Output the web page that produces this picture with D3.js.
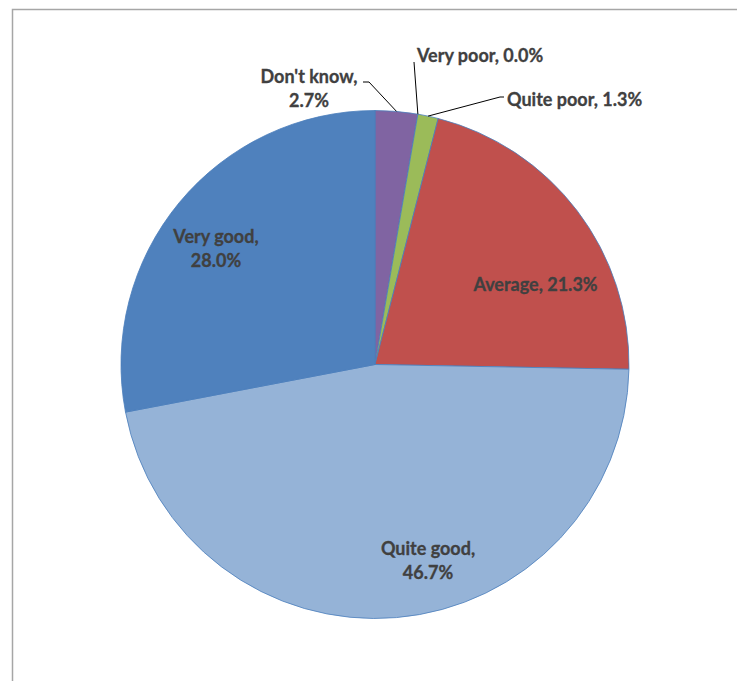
<!DOCTYPE html>
<html>
<head>
<meta charset="utf-8">
<script src="https://cdn.jsdelivr.net/npm/d3@7"></script>
<style>
  html, body { margin: 0; padding: 0; background: #fff; }
  svg { display: block; }
  .lbl { font-family: Lato, "Open Sans", sans-serif; font-weight: 700; font-size: 18px; fill: #404040;
         stroke: #404040; stroke-width: 0.3px; paint-order: stroke; }
</style>
</head>
<body>
<svg id="chart" width="737" height="681"></svg>
<script>
// Survey answers, in drawing order clockwise from 12 o'clock
const categories = ["Don't know", "Very poor", "Quite poor", "Average", "Quite good", "Very good"];
const shares = [2.7, 0.0, 1.3, 21.3, 46.7, 28.0];
const colors = ["#8064A2", "#C0504D", "#9BBB59", "#C0504D", "#95B3D7", "#4F81BD"];

// Label placement relative to the pie centre: [dx, dy of first baseline, anchor, split into two lines]
const labelPlacement = [
  { dx: -66, dy: -281.5, anchor: "middle", twoLines: true, leader: [[60, -1], [54, -1]] },
  { dx: 42, dy: -302.5, anchor: "start", twoLines: false, leader: [[-3, 0]] },
  { dx: 132, dy: -258.5, anchor: "start", twoLines: false, leader: [[-7, -9], [-3, -9]] },
  { dx: 160.5, dy: -73.5, anchor: "middle", twoLines: false },
  { dx: 53, dy: 190.5, anchor: "middle", twoLines: true },
  { dx: -159, dy: -121.5, anchor: "middle", twoLines: true }
];

const svg = d3.select("#chart");
const W = 737, H = 681;
const cx = 375, cy = 364.5, R = 254;
const lineGap = 24;

// chart area frame
svg.append("rect")
  .attr("x", 12.5).attr("y", 9.5)
  .attr("width", W + 20).attr("height", H + 20)
  .attr("fill", "none")
  .attr("stroke", "#A6A6A6")
  .attr("stroke-width", 1.5);

const rows = categories.map((c, i) => ({ name: c, value: shares[i], color: colors[i], place: labelPlacement[i] }));

const pie = d3.pie().sort(null).value(d => d.value).startAngle(0).endAngle(2 * Math.PI);
const arcs = pie(rows);

const arc = d3.arc().innerRadius(0).outerRadius(R);

const g = svg.append("g").attr("transform", `translate(${cx},${cy})`);

g.selectAll("path.slice")
  .data(arcs.filter(a => a.data.value > 0))
  .join("path")
  .attr("class", "slice")
  .attr("d", arc)
  .attr("fill", d => d.data.color)
  .attr("stroke", "#4A7EBB")
  .attr("stroke-width", 0.8);

const fmt = d3.format(".1f");

// leader lines for the small slices
arcs.forEach(a => {
  const p = a.data.place;
  if (!p.leader) return;
  const mid = (a.startAngle + a.endAngle) / 2;
  const start = [R * Math.sin(mid), -R * Math.cos(mid)];
  const pts = [start].concat(p.leader.map(o => [p.dx + o[0], p.dy + o[1]]));
  g.append("path")
    .attr("d", d3.line()(pts))
    .attr("fill", "none")
    .attr("stroke", "#000")
    .attr("stroke-width", 1);
});

// data labels
arcs.forEach(a => {
  const p = a.data.place;
  const t = g.append("text")
    .attr("class", "lbl")
    .attr("text-anchor", p.anchor)
    .attr("x", p.dx)
    .attr("y", p.dy);
  const pct = fmt(a.data.value) + "%";
  if (p.twoLines) {
    t.append("tspan").attr("x", p.dx).attr("y", p.dy).text(a.data.name + ",");
    t.append("tspan").attr("x", p.dx).attr("y", p.dy + lineGap).text(pct);
  } else {
    t.text(a.data.name + ", " + pct);
  }
});
</script>
</body>
</html>
